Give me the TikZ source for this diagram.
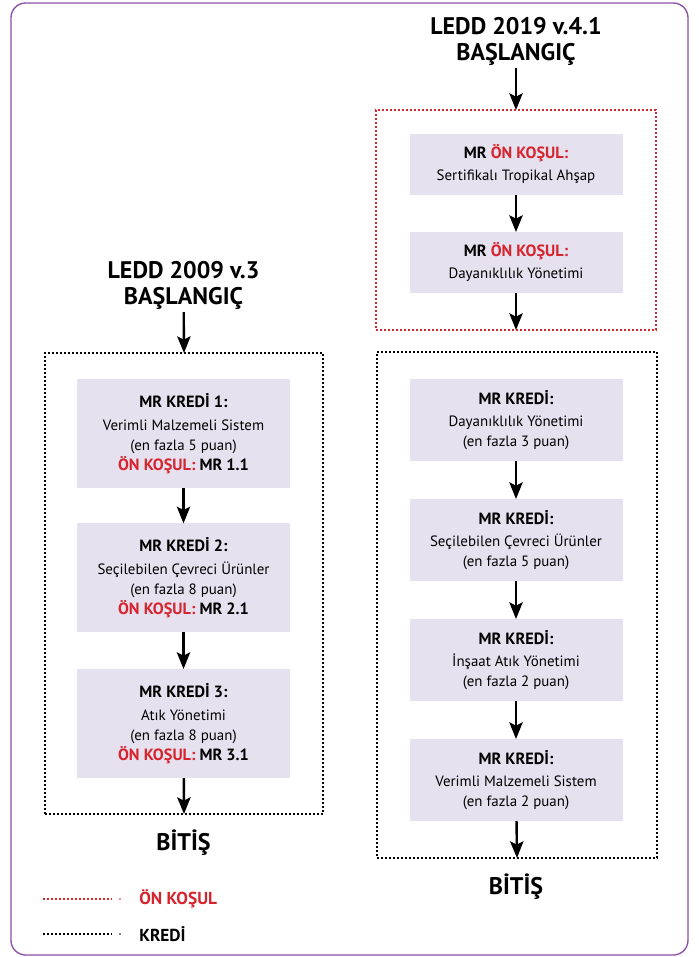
\documentclass[tikz,border=0pt]{standalone}
\usepackage{fontspec}
\setmainfont{PT Sans}
\usetikzlibrary{positioning,arrows.meta}
\definecolor{lilac}{HTML}{E6E1EE}
\definecolor{kosulred}{HTML}{D7232D}
\definecolor{framepurple}{HTML}{8C50A8}
\newcommand{\mrhead}[1]{{\fontsize{12.2}{15}\selectfont\bfseries #1}}
\newcommand{\kosul}[1]{\mrhead{\textcolor{kosulred}{ÖN KOŞUL:} MR #1}}
\tikzset{
  mrbox/.style={fill=lilac, minimum width=159.75pt, align=center, inner sep=0pt, outer sep=0pt,
    font=\fontsize{11.2}{15}\selectfont},
  flow/.style={-{Stealth[length=12.5pt,width=10pt,inset=2.5pt]}, line width=1.8pt},
  dotframe/.style={draw, line width=1.5pt, dash pattern=on 1.4pt off 1.6pt, outer sep=0pt},
  dotlegend/.style={line width=1.3pt, dash pattern=on 1.2pt off 1.8pt},
  title/.style={font=\fontsize{18}{19.5}\selectfont\bfseries, align=center, inner sep=2pt},
  legend/.style={font=\fontsize{13}{14}\selectfont\bfseries, anchor=west, inner sep=0pt}
}
\begin{document}
\begin{tikzpicture}[x=0.75pt, y=-0.75pt, node distance=27.75pt]
\useasboundingbox (0,0) rectangle (699,957);
\draw[framepurple, line width=1pt, rounded corners=11pt] (11,3) rectangle (688,955);

% LEDD 2019 v.4.1 column
\node[title] (start19) at (516,41) {LEDD 2019 v.4.1\\BAŞLANGIÇ};
\node[dotframe, draw=kosulred, minimum width=210pt, minimum height=165pt] (onframe) at (516,220) {};
\node[mrbox, minimum height=45.75pt] (on1) at (516,164.5)
  {\mrhead{MR \textcolor{kosulred}{ÖN KOŞUL:}}\\[1.5pt]Sertifikalı Tropikal Ahşap};
\node[mrbox, minimum height=45.75pt, below=of on1] (on2)
  {\mrhead{MR \textcolor{kosulred}{ÖN KOŞUL:}}\\[1.5pt]Dayanıklılık Yönetimi};
\node[dotframe, minimum width=210pt, minimum height=379.5pt] (krframe19) at (517,605) {};
\node[mrbox, minimum height=61.5pt] (kr1) at (516,420)
  {\mrhead{MR KREDİ:}\\[1.5pt]Dayanıklılık Yönetimi\\(en fazla 3 puan)};
\node[mrbox, minimum height=61.5pt, below=28.5pt of kr1] (kr2)
  {\mrhead{MR KREDİ:}\\[1.5pt]Seçilebilen Çevreci Ürünler\\(en fazla 5 puan)};
\node[mrbox, minimum height=61.5pt, below=28.5pt of kr2] (kr3)
  {\mrhead{MR KREDİ:}\\[1.5pt]İnşaat Atık Yönetimi\\(en fazla 2 puan)};
\node[mrbox, minimum height=61.5pt, below=28.5pt of kr3] (kr4)
  {\mrhead{MR KREDİ:}\\[1.5pt]Verimli Malzemeli Sistem\\(en fazla 2 puan)};
\node[title] (end19) at (516,887) {BİTİŞ};

\draw[flow] (start19) -- (onframe.north);
\draw[flow] (on1) -- (on2);
\draw[flow] (on2) -- (onframe.south);
\draw[flow] (kr1) -- (kr2);
\draw[flow] (kr2) -- (kr3);
\draw[flow] (kr3) -- (kr4);
\draw[flow] (kr4) -- (krframe19.south);

% LEDD 2009 v.3 column
\node[title] (start09) at (183.5,285) {LEDD 2009 v.3\\BAŞLANGIÇ};
\node[dotframe, minimum width=208.5pt, minimum height=345.75pt] (krframe09) at (184,583.5) {};
\node[mrbox, minimum height=81.75pt] (mr1) at (183.5,433.5)
  {\mrhead{MR KREDİ 1:}\\[2pt]Verimli Malzemeli Sistem\\(en fazla 5 puan)\\\kosul{1.1}};
\node[mrbox, minimum height=81.75pt, below=26.5pt of mr1] (mr2)
  {\mrhead{MR KREDİ 2:}\\[2pt]Seçilebilen Çevreci Ürünler\\(en fazla 8 puan)\\\kosul{2.1}};
\node[mrbox, minimum height=81.75pt, below=27.5pt of mr2] (mr3)
  {\mrhead{MR KREDİ 3:}\\[2pt]Atık Yönetimi\\(en fazla 8 puan)\\\kosul{3.1}};
\node[title] (end09) at (183.5,843) {BİTİŞ};

\draw[flow] (start09) -- (krframe09.north);
\draw[flow] (mr1) -- (mr2);
\draw[flow] (mr2) -- (mr3);
\draw[flow] (mr3) -- (krframe09.south);

% legend
\draw[dotlegend, kosulred] (43,899) -- (112,899);
\fill[kosulred] (120,899) circle (0.65pt);
\node[legend, text=kosulred] (legon) at (139,899) {ÖN KOŞUL};
\draw[dotlegend] (43,934) -- (112,934);
\fill (120,934) circle (0.65pt);
\node[legend] (legkr) at (139,934) {KREDİ};
\end{tikzpicture}
\end{document}
